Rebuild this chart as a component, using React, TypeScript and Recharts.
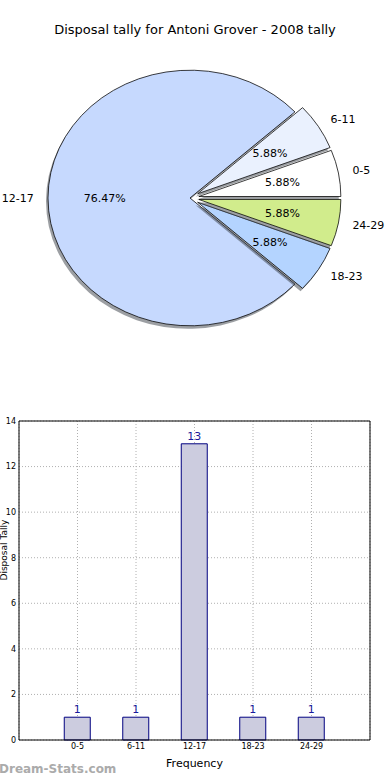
import React from 'react';
import { PieChart, Pie, Sector, BarChart, Bar, XAxis, YAxis, CartesianGrid, LabelList } from 'recharts';

// Grupos de idade e contagem
const AGE_GROUPS = ['0-5', '6-11', '12-17', '18-23', '24-29'];
const DISPOSALS = [1, 1, 13, 1, 1];
const SLICE_COLORS = ['#ffffff', '#eaf1fe', '#c6d9fe', '#b4d4ff', '#d1ec8c'];
const Y_TICKS = [0, 2, 4, 6, 8, 10, 12, 14];

const FONT = '"DejaVu Sans", Verdana, sans-serif';
const RADIUS = 142;
const SY = 0.9; // pie is squashed vertically
const EXPLODE = 9;

const pieData = AGE_GROUPS.map((label, i) => ({ label, value: DISPOSALS[i], color: SLICE_COLORS[i] }));
const barData = AGE_GROUPS.map((label, i) => ({ label, value: DISPOSALS[i] }));
const maxValue = Math.max(...DISPOSALS);
const total = DISPOSALS.reduce((a, b) => a + b, 0);

const RAD = Math.PI / 180;

function explodeOf(value: number) {
  return value === maxValue ? 0 : EXPLODE;
}

const SliceShape = (props: any) => {
  const { cx, cy, outerRadius, startAngle, endAngle, payload } = props;
  const mid = (startAngle + endAngle) / 2;
  const e = explodeOf(payload.value);
  const dx = e * Math.cos(mid * RAD);
  const dy = -e * Math.sin(mid * RAD);
  const squash = `translate(0 ${cy}) scale(1 ${SY}) translate(0 ${-cy})`;
  return (
    <g>
      <g transform="translate(-2 3)">
        <g transform={squash}>
          <Sector cx={cx + dx} cy={cy + dy} innerRadius={0} outerRadius={outerRadius}
            startAngle={startAngle} endAngle={endAngle} fill="#3a3f48" fillOpacity={0.5} stroke="none" />
        </g>
      </g>
      <g transform={squash}>
        <Sector cx={cx + dx} cy={cy + dy} innerRadius={0} outerRadius={outerRadius}
          startAngle={startAngle} endAngle={endAngle} fill={payload.color} stroke="#000" strokeWidth={0.8} />
      </g>
    </g>
  );
};

const SliceLabel = (props: any) => {
  const { cx, cy, midAngle, payload } = props;
  const e = explodeOf(payload.value);
  const c = Math.cos(midAngle * RAD);
  const s = Math.sin(midAngle * RAD);
  const lx = cx + (e + 1.1 * RADIUS) * c;
  const ly = cy - SY * (e + 1.1 * RADIUS) * s;
  const px = cx + (e + 0.6 * RADIUS) * c;
  const py = cy - SY * (e + 0.6 * RADIUS) * s;
  const pct = ((payload.value / total) * 100).toFixed(2) + '%';
  return (
    <g fontFamily={FONT} fontSize={11} fill="#000">
      <text x={lx} y={ly} textAnchor={c > 0 ? 'start' : 'end'} dominantBaseline="central">{payload.label}</text>
      <text x={px} y={py} textAnchor="middle" dominantBaseline="central">{pct}</text>
    </g>
  );
};

export default function App() {
  return (
    <div style={{ position: 'absolute', left: 0, top: 0, width: 390, height: 780, background: '#fff', overflow: 'hidden', fontFamily: FONT }}>
      <div style={{ position: 'absolute', top: 22, width: 390, textAlign: 'center', fontSize: 13, color: '#000' }}>
        Disposal tally for Antoni Grover - 2008 tally
      </div>

      <div style={{ position: 'absolute', left: 0, top: 0 }}>
        <PieChart width={390} height={400} margin={{ top: 0, right: 0, bottom: 0, left: 0 }}>
          <Pie
            data={pieData}
            dataKey="value"
            nameKey="label"
            cx={190}
            cy={198}
            outerRadius={RADIUS}
            startAngle={0}
            endAngle={360}
            shape={SliceShape}
            label={SliceLabel}
            labelLine={false}
            isAnimationActive={false}
          />
        </PieChart>
      </div>

      <div style={{ position: 'absolute', left: 0, top: 400 }}>
        <BarChart width={390} height={380} data={barData} margin={{ top: 0, right: 0, bottom: 0, left: 0 }}>
          <CartesianGrid stroke="#b0b0b0" strokeDasharray="1 2" />
          <XAxis
            dataKey="label"
            height={40}
            padding={{ left: 29.25, right: 29.25 }}
            axisLine={{ stroke: '#000' }}
            tickLine={false}
            tickSize={0}
            tickMargin={3}
            tick={{ fontSize: 8, fill: '#000', fontFamily: FONT }}
            label={{ value: 'Frequency', position: 'insideBottom', offset: 13, fontSize: 11, fill: '#000', fontFamily: FONT }}
          />
          <XAxis xAxisId="top" orientation="top" dataKey="label" height={21} tick={false} tickLine={false} axisLine={{ stroke: '#000' }} />
          <YAxis
            width={19}
            domain={[0, 14]}
            ticks={Y_TICKS}
            axisLine={{ stroke: '#000' }}
            tickLine={false}
            tickSize={0}
            tickMargin={3}
            tick={{ fontSize: 8, fill: '#000', fontFamily: FONT }}
            label={{ value: 'Disposal Tally', angle: -90, position: 'insideLeft', offset: 4, fontSize: 9, fill: '#000', fontFamily: FONT }}
          />
          <YAxis yAxisId="right" orientation="right" width={20} domain={[0, 14]} tick={false} tickLine={false} axisLine={{ stroke: '#000' }} />
          <Bar dataKey="value" barSize={26} fill="#ccccdf" stroke="#000080" strokeWidth={1} isAnimationActive={false}>
            <LabelList dataKey="value" position="top" offset={4} fill="#1a1a9c" fontSize={11} fontFamily={FONT} />
          </Bar>
        </BarChart>
      </div>

      <div style={{ position: 'absolute', left: -1, top: 762, fontSize: 12, fontWeight: 'bold', color: '#ababab' }}>
        Dream-Stats.com
      </div>
    </div>
  );
}
